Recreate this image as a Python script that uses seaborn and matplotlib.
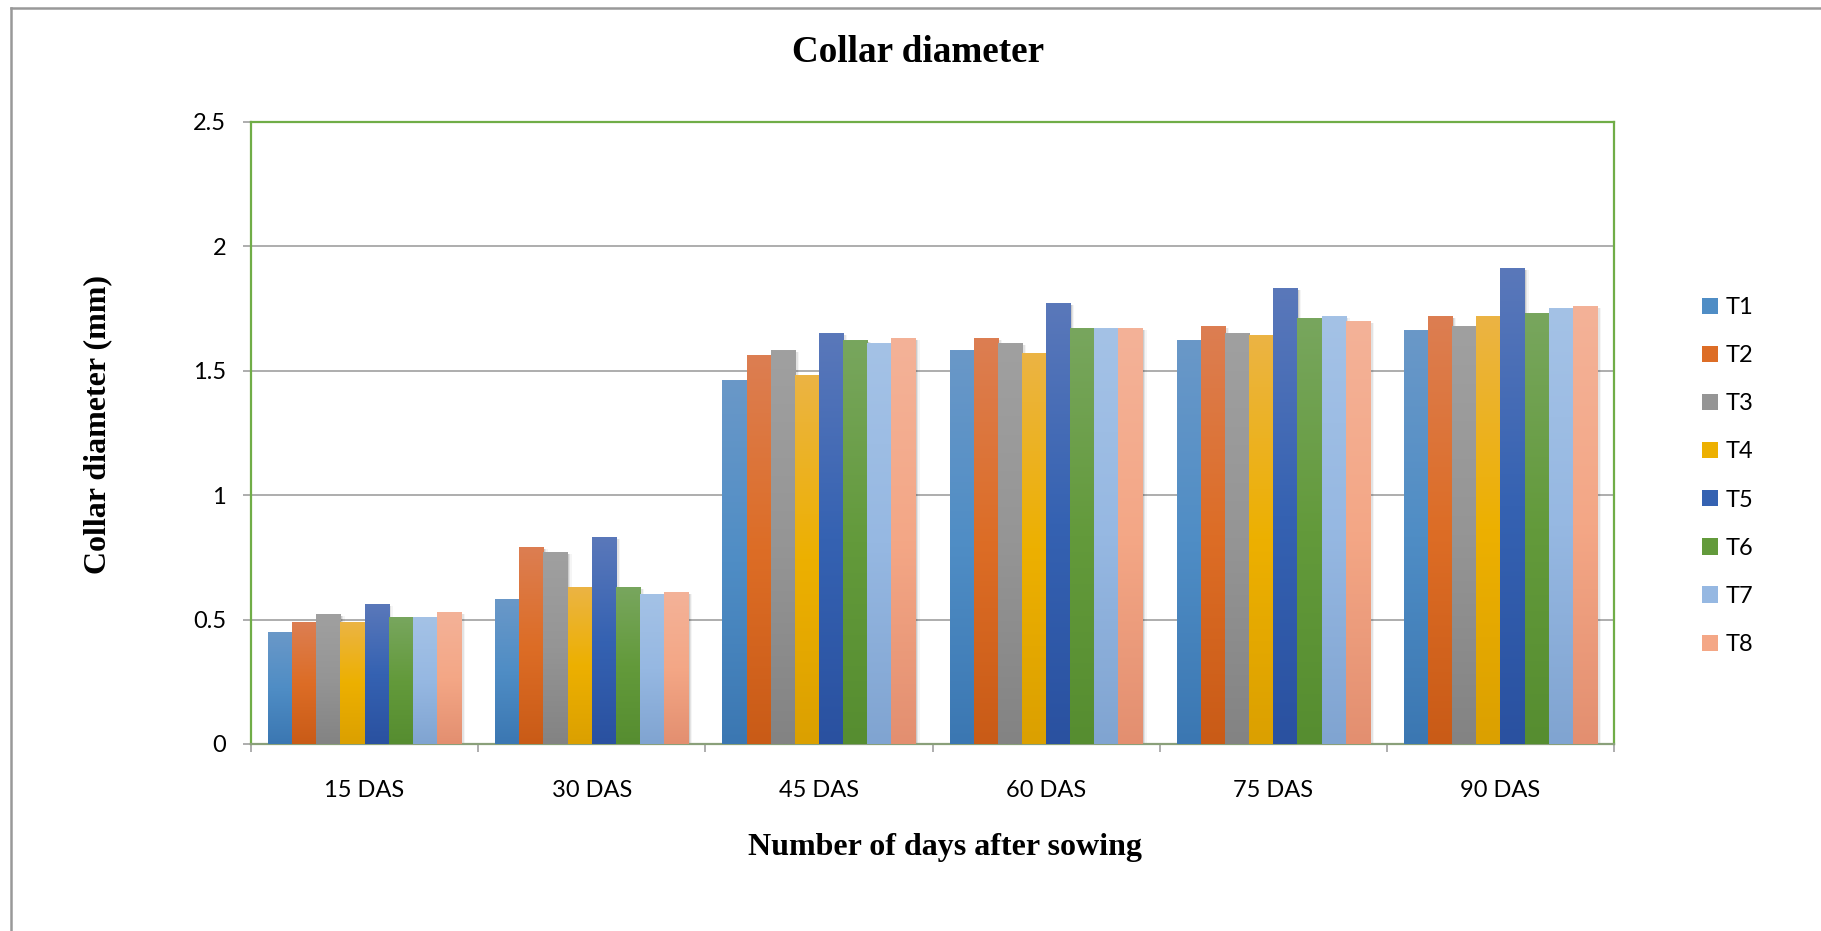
import numpy as np
import pandas as pd
import matplotlib
matplotlib.use("Agg")
import matplotlib.pyplot as plt
import seaborn as sns
from matplotlib.colors import LinearSegmentedColormap, to_hex
from matplotlib.patches import Patch
from matplotlib.lines import Line2D
from matplotlib.ticker import FixedLocator, FuncFormatter

# ---------------- data ----------------
categories = ["15 DAS", "30 DAS", "45 DAS", "60 DAS", "75 DAS", "90 DAS"]
treatments = ["T1", "T2", "T3", "T4", "T5", "T6", "T7", "T8"]
T1 = [0.45, 0.58, 1.46, 1.58, 1.62, 1.66]
T2 = [0.49, 0.79, 1.56, 1.63, 1.68, 1.72]
T3 = [0.52, 0.77, 1.58, 1.61, 1.65, 1.68]
T4 = [0.49, 0.63, 1.48, 1.57, 1.64, 1.72]
T5 = [0.56, 0.83, 1.65, 1.77, 1.83, 1.91]
T6 = [0.51, 0.63, 1.62, 1.67, 1.71, 1.73]
T7 = [0.51, 0.60, 1.61, 1.67, 1.72, 1.75]
T8 = [0.53, 0.61, 1.63, 1.67, 1.70, 1.76]
y_ticks = [0, 0.5, 1, 1.5, 2, 2.5]
title = "Collar diameter"
x_label = "Number of days after sowing"
y_label = "Collar diameter (mm)"

series = [T1, T2, T3, T4, T5, T6, T7, T8]
df = pd.DataFrame({
    "day": np.repeat([categories], len(treatments), axis=0).ravel(),
    "treatment": np.repeat(treatments, len(categories)),
    "value": np.concatenate(series),
})

# ---------------- styles ----------------
mid_cols = ["#4F8DC5", "#DD6D26", "#959595", "#EDB000",
            "#3562B2", "#639A3B", "#96B8E2", "#F4A786"]
top_cols = ["#6A98C8", "#DC7E52", "#A0A0A0", "#EBB444",
            "#5A78BA", "#78A65E", "#A4C2E6", "#F3B298"]
bot_cols = ["#3B77B2", "#C95B17", "#838383", "#DBA000",
            "#2A51A0", "#568D30", "#80A4D1", "#E38F70"]

W, H = 1821, 931
fig = plt.figure(figsize=(W / 100, H / 100), dpi=100)
ax = fig.add_axes([251 / W, 1 - 744 / H, (1614 - 251) / W, (744 - 122) / H])

sns.barplot(data=df, x="day", y="value", hue="treatment", order=categories,
            hue_order=treatments, palette=mid_cols, width=0.85, dodge=True,
            errorbar=None, legend=False, saturation=1, ax=ax, linewidth=0,
            zorder=3)

ax.set_xlim(-0.5, len(categories) - 0.5)
ax.set_ylim(0, 2.5)
xlim, ylim = ax.get_xlim(), ax.get_ylim()

# gradients + soft shadows on bars
hexmap = {c.lower(): i for i, c in enumerate(mid_cols)}
grad = np.linspace(0, 1, 256).reshape(-1, 1)
for p in list(ax.patches):
    idx = hexmap.get(to_hex(p.get_facecolor()).lower())
    if idx is None:
        continue
    x0, y0, w, h = p.get_x(), p.get_y(), p.get_width(), p.get_height()
    cmap = LinearSegmentedColormap.from_list(
        f"g{idx}", [top_cols[idx], mid_cols[idx], bot_cols[idx]])
    ax.imshow(grad, cmap=cmap, extent=[x0, x0 + w, y0, y0 + h],
              origin="upper", aspect="auto", zorder=3.1, interpolation="bilinear")
    for k, a in zip([0.006, 0.012, 0.018], [0.10, 0.07, 0.04]):
        ax.add_patch(plt.Rectangle((x0 + k, y0), w, h - 0.006, color="#000000",
                                   alpha=a, lw=0, zorder=2.5))

ax.set_xlim(*xlim)
ax.set_ylim(*ylim)

# grid & spines
ax.yaxis.set_major_locator(FixedLocator(y_ticks))
ax.yaxis.set_major_formatter(FuncFormatter(lambda v, _: f"{v:g}"))
ax.grid(axis="y", color="#A0A0A0", lw=1.2, zorder=1)
ax.grid(axis="x", visible=False)
ax.set_axisbelow(True)
for s in ["left", "right", "top"]:
    ax.spines[s].set_color("#70AD47")
    ax.spines[s].set_linewidth(1.6)
ax.spines["bottom"].set_color("#8AA07A")
ax.spines["bottom"].set_linewidth(1.6)
ax.set_facecolor("white")

ax.set_xticks(range(len(categories)))
ax.set_xticklabels(categories)
ax.set_xticks(np.arange(-0.5, len(categories)), minor=True)
ax.tick_params(axis="x", which="major", length=0, pad=26, labelsize=17)
ax.tick_params(axis="x", which="minor", length=6, width=1.2, color="#A0A0A0",
               direction="out")
ax.tick_params(axis="y", length=6, width=1.2, color="#A0A0A0", pad=12,
               labelsize=17, direction="out")
for lab in ax.get_xticklabels() + ax.get_yticklabels():
    lab.set_fontfamily("Lato")
    lab.set_color("#000000")
ax.set_xlabel("")
ax.set_ylabel("")

# texts
fig.text(918 / W, 1 - 53 / H, title, ha="center", va="center",
         fontsize=26.7, fontweight="bold", family="Liberation Serif")
fig.text(945 / W, 1 - 847 / H, x_label, ha="center", va="center",
         fontsize=23, fontweight="bold", family="Liberation Serif")
fig.text(98 / W, 1 - 425 / H, y_label, ha="center", va="center", rotation=90,
         fontsize=23, fontweight="bold", family="Liberation Serif")

# legend
handles = [Patch(facecolor=mid_cols[i], edgecolor="none") for i in range(len(treatments))]
leg = fig.legend(handles, treatments, loc="center left",
                 bbox_to_anchor=(1702 / W, 1 - 476 / H), frameon=False,
                 prop={"family": "Lato", "size": 17}, handlelength=0.68,
                 handleheight=0.68, handletextpad=0.3, labelspacing=1.15,
                 borderpad=0, borderaxespad=0)

# outer frame (top and left only)
fig.add_artist(Line2D([11 / W, 1], [1 - 8 / H, 1 - 8 / H], color="#999999", lw=1.8,
                      transform=fig.transFigure))
fig.add_artist(Line2D([11 / W, 11 / W], [1 - 8 / H, 0], color="#999999", lw=1.8,
                      transform=fig.transFigure))

fig.savefig("out.png", dpi=100, facecolor="white")
